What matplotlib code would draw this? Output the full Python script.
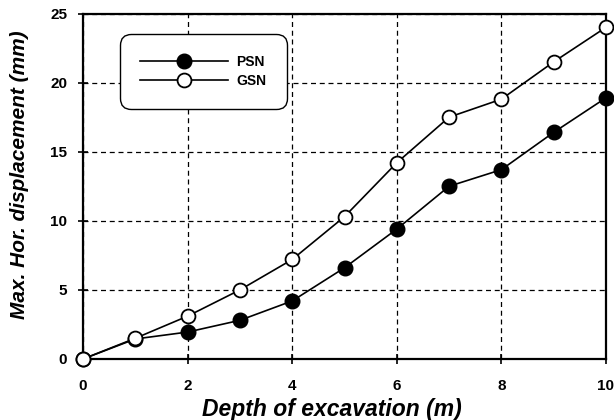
import matplotlib
matplotlib.use("Agg")
import matplotlib.pyplot as plt

depth = [0, 1, 2, 3, 4, 5, 6, 7, 8, 9, 10]
psn = [0, 1.45, 1.95, 2.8, 4.2, 6.6, 9.4, 12.5, 13.7, 16.4, 18.9]
gsn = [0, 1.5, 3.1, 5.0, 7.2, 10.3, 14.2, 17.5, 18.8, 21.5, 24.0]
xticks = [0, 2, 4, 6, 8, 10]
yticks = [0, 5, 10, 15, 20, 25]

plt.rcParams['font.family'] = ['Liberation Sans', 'DejaVu Sans']

fig = plt.figure(figsize=(6.14, 4.2), dpi=100)
ax = fig.add_axes([83/614, 1-359/420, (606-83)/614, (359-13.5)/420])

ax.plot(depth, psn, color='black', lw=1.2, marker='o', ms=10.5,
        mfc='black', mec='black', label='PSN', clip_on=False, zorder=3)
ax.plot(depth, gsn, color='black', lw=1.2, marker='o', ms=10,
        mfc='white', mec='black', mew=1.3, label='GSN', clip_on=False, zorder=3)

ax.set_xlim(0, 10)
ax.set_ylim(0, 25)
ax.set_xticks(xticks)
ax.set_yticks(yticks)
ax.grid(True, color='black', ls=(0, (4, 3)), lw=0.9)
ax.tick_params(direction='inout', length=7, width=1.2, labelsize=11)
for lab in ax.get_xticklabels() + ax.get_yticklabels():
    lab.set_fontweight('bold')
ax.tick_params(axis='x', pad=11)
ax.tick_params(axis='y', pad=8)
for s in ax.spines.values():
    s.set_linewidth(1.6)

ax.set_xlabel('Depth of excavation (m)', fontsize=16.5, fontweight='bold',
              fontstyle='italic', labelpad=0)
ax.xaxis.set_label_coords(0.476, -0.113)
ax.set_ylabel('Max. Hor. displacement (mm)', fontsize=15, fontweight='bold',
              fontstyle='italic')
ax.yaxis.set_label_coords(-0.104, 0.533)

leg = ax.legend(loc='upper left', bbox_to_anchor=(0.078, 0.929),
                handlelength=6.3, prop={'weight': 'bold', 'size': 10},
                borderpad=1.2, labelspacing=0.4, handletextpad=0.6,
                borderaxespad=0.0,
                fancybox=True, framealpha=1, edgecolor='black')
leg.get_frame().set_linewidth(1.0)
leg.get_frame().set_boxstyle('round', pad=0.3, rounding_size=0.8)

fig.savefig('out.png', dpi=100)
